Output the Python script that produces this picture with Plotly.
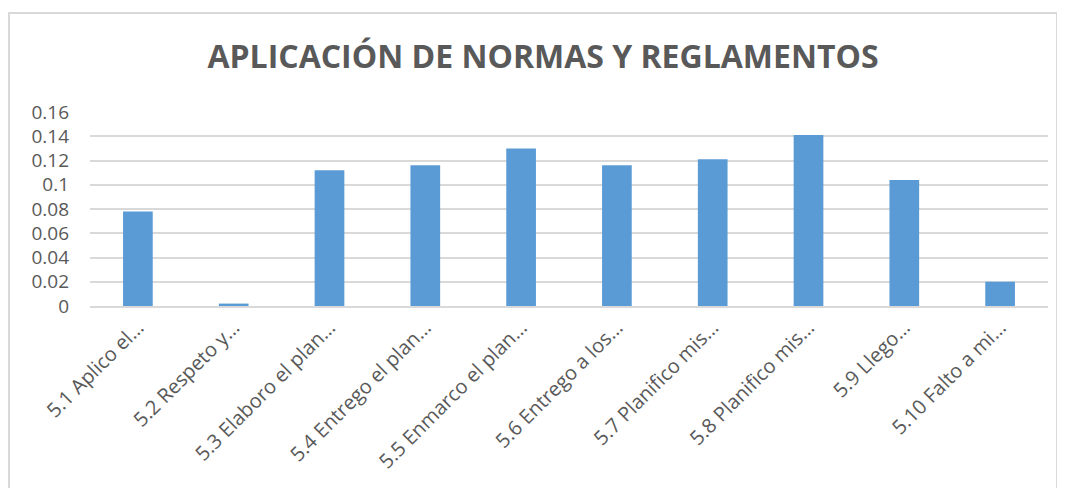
import plotly.graph_objects as go

# Data
categories = [
    "5.1 Aplico el…",
    "5.2 Respeto y…",
    "5.3 Elaboro el plan…",
    "5.4 Entrego el plan…",
    "5.5 Enmarco el plan…",
    "5.6 Entrego a los…",
    "5.7 Planifico mis…",
    "5.8 Planifico mis…",
    "5.9 Llego…",
    "5.10 Falto a mi…",
]
values = [0.078, 0.002, 0.112, 0.116, 0.130, 0.116, 0.121, 0.141, 0.104, 0.020]
y_ticks = [0, 0.02, 0.04, 0.06, 0.08, 0.1, 0.12, 0.14, 0.16]
y_tick_labels = ["0", "0.02", "0.04", "0.06", "0.08", "0.1", "0.12", "0.14", "0.16"]

BAR_COLOR = "#5b9bd5"
GRID_COLOR = "#d9d9d9"
TEXT_COLOR = "#595959"
FONT = "Open Sans, Liberation Sans, sans-serif"

# the page puts the figure 8px in from the top-left corner
OFF = 8
W, H = 1065 - OFF, 488 - OFF
L, R, T, B = 90 - OFF, 17, 112 - OFF, 182
plot_w = W - L - R
plot_h = H - T - B

fig = go.Figure(
    go.Bar(
        x=categories,
        y=values,
        marker=dict(color=BAR_COLOR, line=dict(width=0)),
    )
)

# outer chart frame (light grey border like the Excel chart area)
fig.add_shape(
    type="rect",
    xref="paper",
    yref="paper",
    x0=(1 - L) / plot_w,
    x1=(1057 - OFF - L) / plot_w,
    y0=(H - B - 500) / plot_h,
    y1=(H - B - (13 - OFF)) / plot_h,
    line=dict(color=GRID_COLOR, width=2),
    layer="below",
)

fig.update_layout(
    width=W,
    height=H,
    margin=dict(l=L, r=R, t=T, b=B, autoexpand=False),
    paper_bgcolor="white",
    plot_bgcolor="white",
    bargap=0.69,
    showlegend=False,
    font=dict(family=FONT, color=TEXT_COLOR, size=19),
    title=dict(
        text="<b>APLICACIÓN DE NORMAS Y REGLAMENTOS</b>",
        x=(543 - OFF) / W,
        xref="container",
        xanchor="center",
        y=1 - (57 - OFF) / H,
        yanchor="middle",
        font=dict(family=FONT, size=32, color=TEXT_COLOR),
    ),
    xaxis=dict(
        automargin=False,
        tickangle=-45,
        showgrid=False,
        showline=True,
        linecolor=GRID_COLOR,
        linewidth=2,
        ticks="",
        tickfont=dict(size=20, color=TEXT_COLOR),
    ),
    yaxis=dict(
        automargin=False,
        range=[0, 0.16],
        tickvals=y_ticks,
        ticktext=y_tick_labels,
        showgrid=True,
        gridcolor=GRID_COLOR,
        gridwidth=2,
        zeroline=False,
        showline=False,
        ticks="",
        ticklabelstandoff=20,
        tickfont=dict(size=19, color=TEXT_COLOR),
    ),
)

fig.write_html("out.html")
